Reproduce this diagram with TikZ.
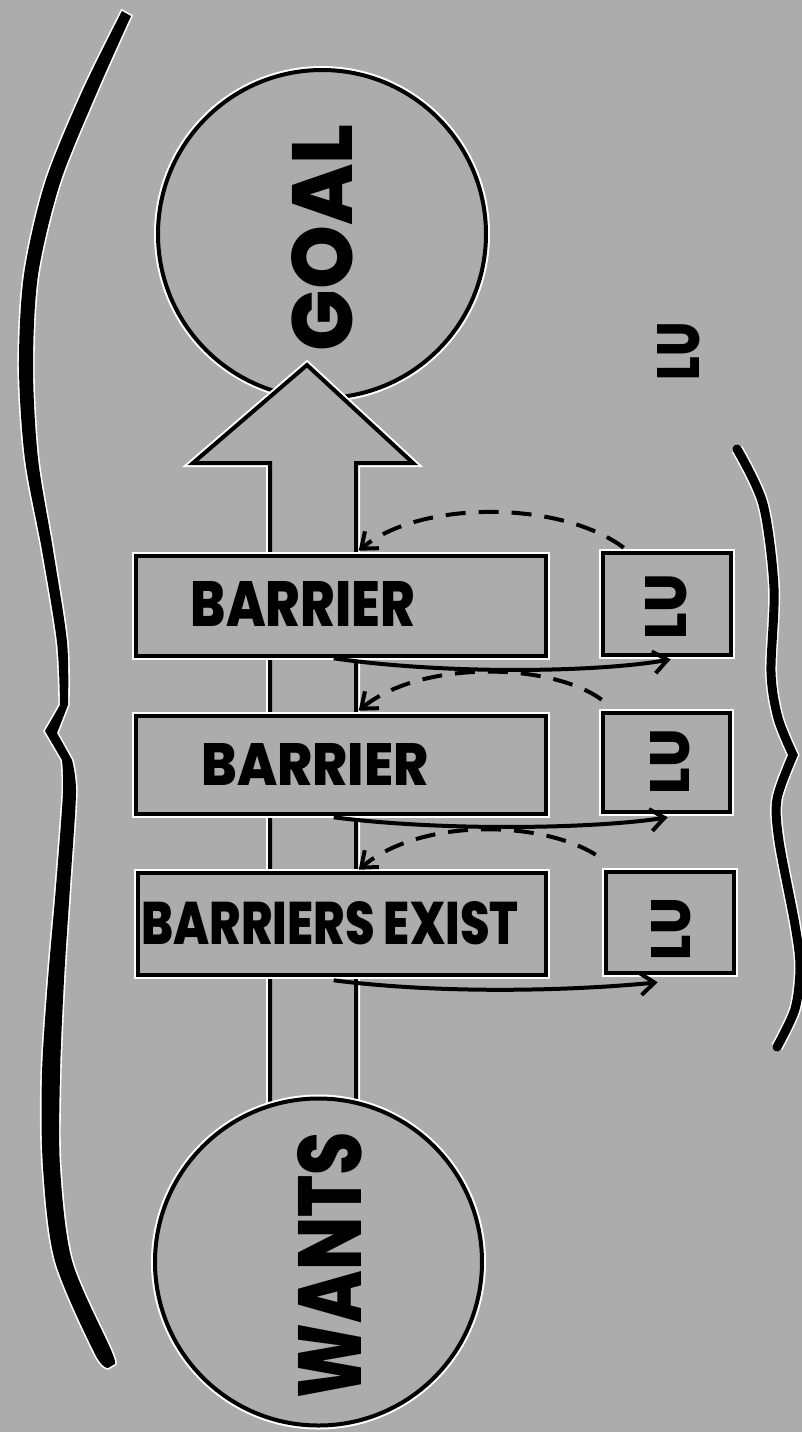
\documentclass[tikz,border=0pt]{standalone}
\usepackage{fontspec}
\usepackage{graphicx}
\IfFontExistsTF{Poppins ExtraBold}{\newfontfamily\hv{Poppins ExtraBold}}{\IfFontExistsTF{Poppins Bold}{\newfontfamily\hv{Poppins Bold}[FakeBold=1.5]}{\newfontfamily\hv{Liberation Sans Bold}[FakeBold=2.5]}}
\usetikzlibrary{arrows.meta,calc}
\definecolor{bg}{HTML}{ACACAC}
\begin{document}
\begin{tikzpicture}[x=0.5pt,y=-0.5pt,
  ln/.style={line width=2.3pt, draw=black},
  halo/.style={preaction={draw=white,line width=4pt}},
  shp/.style={ln, halo, fill=bg},
  bbox/.style={shp, rectangle, inner sep=0pt, minimum width=205pt, minimum height=50pt},
  lbox/.style={shp, rectangle, inner sep=0pt, minimum width=64pt, minimum height=50.5pt},
  circ/.style={shp, line width=2pt, circle, inner sep=0pt, minimum size=164pt},
  lbl/.style={inner sep=0pt, outer sep=0pt, font=\hv},
  dashconn/.style={line width=2pt, dash pattern=on 10pt off 6.5pt, -{Straight Barb[length=7pt,width=11pt,line width=2pt]}},
  solconn/.style={line width=2pt, -{Straight Barb[length=7pt,width=11pt,line width=2pt]}},
]
\useasboundingbox (0,0) rectangle (802,1432);
\fill[bg] (0,0) rectangle (802,1432);

% goal circle
\node[circ] (goal) at (322,234) {};
% big arrow
\draw[ln, line width=2pt, halo, fill=bg] (270,1180) -- (270,463) -- (193,463) -- (307,365) -- (413,463) -- (356,463) -- (356,1180);
% wants circle
\node[circ, minimum size=163.5pt] (wants) at (318.5,1262) {};

\node[lbl, rotate=90] (goaltxt) at (322,238) {\resizebox{113.5pt}{30.5pt}{GOAL}};
\node[lbl, rotate=90] (wantstxt) at (330,1265) {\resizebox{133pt}{32pt}{WANTS}};

% barrier boxes
\node[bbox] (b1) at (341,606) {};
\node[bbox, minimum height=49pt] (b2) at (341,765) {};
\node[bbox, minimum width=204pt, minimum height=51pt] (b3) at (342,924) {};
\node[lbl] (b1t) at (303,604) {\resizebox{112pt}{22.5pt}{BARRIER}};
\node[lbl] (b2t) at (315,764) {\resizebox{113.5pt}{21pt}{BARRIER}};
\node[lbl] (b3t) at (330,923) {\resizebox{188.5pt}{21.5pt}{BARRIERS EXIST}};

% LU boxes
\node[lbox, minimum height=51pt] (lu1) at (667,604) {};
\node[lbox, minimum width=63.5pt, minimum height=49.5pt] (lu2) at (666.5,762.5) {};
\node[lbox] (lu3) at (670,922.5) {};
\node[lbl, rotate=90] (lu1t) at (666,607) {\resizebox{32.5pt}{20.5pt}{LU}};
\node[lbl, rotate=90] (lu2t) at (670,762) {\resizebox{32.5pt}{19.5pt}{LU}};
\node[lbl, rotate=90] (lu3t) at (671,929) {\resizebox{31pt}{19.5pt}{LU}};
\node[lbl, rotate=90] (luout) at (679,351) {\resizebox{29pt}{21pt}{LU}};

% dashed feedback arrows
\draw[dashconn] ($(lu1.north west)+(23,-3)$) .. controls (560,500) and (420,500) .. ($(b1.north west)+(225,-3)$);
\draw[dashconn] ($(lu2.north west)+(1,-11)$) .. controls (550,662) and (420,660) .. ($(b2.north west)+(225,-3)$);
\draw[dashconn] ($(lu3.north west)+(-8,-15)$) .. controls (540,820) and (420,818) .. ($(b3.north west)+(223,-1)$);

% solid arrows
\draw[solconn] ($(b1.south west)+(200,0)$) .. controls (450,675) and (600,672) .. ($(lu1.south west)+(70,2)$);
\draw[solconn] ($(b2.south west)+(200,1)$) .. controls (450,832) and (600,828) .. ($(lu2.south west)+(67,3)$);
\draw[solconn] ($(b3.south west)+(198,3)$) .. controls (450,995) and (580,990) .. ($(lu3.south west)+(54,7)$);

% left brace
\fill[black, preaction={draw=white,line width=1.6pt}]
  plot[smooth] coordinates {(122,11) (82,92) (45,183) (24,275) (19,367) (25,459) (42,550) (57,642) (60,705)}
  -- (45,731)
  -- plot[smooth] coordinates {(62,760) (63,793) (56,887) (48,980) (42,1074) (43,1167) (55,1261) (95,1354) (108,1368)}
  -- plot[smooth] coordinates {(115,1364) (111,1350) (72,1261) (60,1167) (60,1074) (64,980) (70,887) (76,793) (72,760)}
  -- (57,733)
  -- plot[smooth] coordinates {(68,705) (67,642) (53,550) (38,459) (33,367) (38,275) (60,183) (97,92) (131,16)}
  -- cycle;

% right brace
\draw[line width=4.5pt, line cap=round, miter limit=20, preaction={draw=white,line width=6pt}]
  plot[smooth] coordinates {(737,449) (763,504) (774,588) (771,672) (778,718) (793,755)}
  -- plot[smooth] coordinates {(793,755) (777,799) (779,841) (795,925) (800,967) (795,1009) (777,1047)};
\end{tikzpicture}
\end{document}
